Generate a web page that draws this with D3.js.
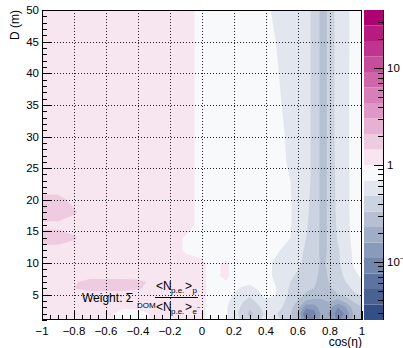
<!DOCTYPE html>
<html>
<head>
<meta charset="utf-8">
<script src="https://cdn.jsdelivr.net/npm/d3@7"></script>
<style>
  body { margin: 0; background: #fff; }
  text { font-family: "Liberation Sans", Arial, Helvetica, sans-serif; fill: #000; }
</style>
</head>
<body>
<svg id="chart" width="403" height="348"></svg>
<script>
// grid columns (cos eta) and rows (D in m, top row first)
const cosEta = [-1, -0.9, -0.8, -0.7, -0.6, -0.5, -0.4, -0.3, -0.2, -0.1,
                0, 0.05, 0.1, 0.15, 0.2, 0.25, 0.3, 0.35, 0.4, 0.45, 0.5,
                0.55, 0.6, 0.65, 0.7, 0.75, 0.8, 0.85, 0.9, 0.95, 1];
const depthD = [50, 45, 40, 35, 30, 26, 23, 20, 18, 16, 14, 12, 10, 8, 7, 6, 5, 4, 3, 2, 1];

// weight ratio, left block (cos -1 .. -0.1)
const ratioLeft = [
  [1.2, 1.2, 1.2, 1.2, 1.2, 1.2, 1.2, 1.2, 1.2, 1.2],
  [1.2, 1.2, 1.2, 1.2, 1.2, 1.2, 1.2, 1.2, 1.2, 1.2],
  [1.2, 1.2, 1.2, 1.2, 1.2, 1.2, 1.2, 1.2, 1.2, 1.2],
  [1.2, 1.2, 1.2, 1.2, 1.2, 1.2, 1.2, 1.2, 1.2, 1.2],
  [1.2, 1.2, 1.2, 1.2, 1.2, 1.2, 1.2, 1.2, 1.2, 1.2],
  [1.2, 1.2, 1.2, 1.2, 1.2, 1.2, 1.2, 1.2, 1.2, 1.2],
  [1.2, 1.2, 1.2, 1.2, 1.2, 1.2, 1.2, 1.2, 1.2, 1.2],
  [1.55, 1.55, 1.35, 1.2, 1.2, 1.2, 1.2, 1.2, 1.2, 1.2],
  [1.7, 1.7, 1.5, 1.25, 1.2, 1.2, 1.2, 1.2, 1.2, 1.2],
  [1.35, 1.35, 1.25, 1.2, 1.2, 1.2, 1.2, 1.2, 1.2, 1.2],
  [1.65, 1.65, 1.5, 1.25, 1.2, 1.2, 1.2, 1.2, 1.2, 0.95],
  [1.3, 1.3, 1.25, 1.2, 1.2, 1.2, 1.2, 1.2, 1.2, 0.95],
  [1.2, 1.2, 1.2, 1.2, 1.2, 1.2, 1.2, 1.2, 1.2, 1.15],
  [1.2, 1.2, 1.25, 1.3, 1.3, 1.3, 1.3, 1.25, 1.2, 1.15],
  [1.2, 1.25, 1.4, 1.6, 1.6, 1.6, 1.55, 1.35, 1.2, 1.15],
  [1.2, 1.25, 1.45, 1.6, 1.6, 1.6, 1.5, 1.3, 1.2, 1.15],
  [1.2, 1.2, 1.25, 1.25, 1.25, 1.25, 1.2, 1.2, 1.2, 1.15],
  [1.2, 1.2, 1.2, 1.2, 1.15, 1.1, 1.1, 1.15, 1.2, 1.15],
  [1.2, 1.2, 1.2, 1.15, 1.1, 1.05, 1.05, 1.1, 1.15, 1.15],
  [1.2, 1.2, 1.2, 1.15, 1.1, 0.9, 0.9, 1.05, 1.15, 1.15],
  [1.2, 1.2, 1.2, 1.15, 1.1, 0.88, 0.88, 1.05, 1.15, 1.15]
];

// right block (cos 0 .. 1)
const ratioRight = [
  [0.85, 0.85, 0.85, 0.85, 0.85, 0.85, 0.85, 0.85, 0.78, 0.64, 0.58, 0.58, 0.57, 0.52, 0.45, 0.29, 0.36, 0.6, 0.62, 0.8, 0.85],
  [0.85, 0.85, 0.85, 0.85, 0.85, 0.85, 0.85, 0.85, 0.85, 0.72, 0.6, 0.58, 0.57, 0.52, 0.45, 0.29, 0.36, 0.6, 0.62, 0.8, 0.85],
  [0.85, 0.85, 0.85, 0.85, 0.85, 0.85, 0.85, 0.85, 0.85, 0.78, 0.64, 0.58, 0.57, 0.52, 0.45, 0.29, 0.36, 0.6, 0.63, 0.8, 0.85],
  [0.85, 0.85, 0.85, 0.85, 0.85, 0.85, 0.85, 0.85, 0.85, 0.85, 0.685, 0.58, 0.57, 0.52, 0.45, 0.29, 0.36, 0.6, 0.63, 0.8, 0.85],
  [0.85, 0.85, 0.85, 0.85, 0.85, 0.85, 0.85, 0.85, 0.85, 0.85, 0.75, 0.6, 0.57, 0.52, 0.45, 0.29, 0.36, 0.6, 0.63, 0.8, 0.85],
  [0.85, 0.85, 0.85, 0.85, 0.85, 0.85, 0.85, 0.85, 0.85, 0.85, 0.78, 0.62, 0.57, 0.52, 0.45, 0.29, 0.36, 0.58, 0.63, 0.8, 0.85],
  [0.85, 0.85, 0.85, 0.85, 0.85, 0.85, 0.85, 0.85, 0.85, 0.85, 0.82, 0.7, 0.58, 0.52, 0.45, 0.29, 0.36, 0.56, 0.62, 0.8, 0.85],
  [0.85, 0.85, 0.85, 0.85, 0.85, 0.85, 0.85, 0.85, 0.85, 0.85, 0.85, 0.72, 0.58, 0.5, 0.45, 0.29, 0.36, 0.55, 0.62, 0.8, 0.85],
  [0.85, 0.85, 0.85, 0.85, 0.85, 0.85, 0.85, 0.85, 0.85, 0.85, 0.85, 0.72, 0.58, 0.5, 0.44, 0.29, 0.36, 0.54, 0.62, 0.8, 0.85],
  [0.85, 0.85, 0.85, 0.85, 0.85, 0.85, 0.85, 0.85, 0.85, 0.85, 0.85, 0.72, 0.57, 0.49, 0.44, 0.29, 0.36, 0.52, 0.61, 0.8, 0.84],
  [0.85, 0.85, 0.85, 0.85, 0.85, 0.85, 0.85, 0.85, 0.85, 0.85, 0.85, 0.7, 0.57, 0.48, 0.43, 0.29, 0.36, 0.5, 0.6, 0.78, 0.82],
  [0.85, 0.85, 0.85, 0.85, 0.85, 0.85, 0.85, 0.85, 0.85, 0.78, 0.66, 0.6, 0.52, 0.46, 0.42, 0.29, 0.36, 0.46, 0.58, 0.75, 0.8],
  [1.1, 0.9, 0.98, 1.04, 0.92, 0.85, 0.85, 0.85, 0.8, 0.66, 0.6, 0.55, 0.5, 0.45, 0.42, 0.3, 0.38, 0.45, 0.58, 0.72, 0.8],
  [1.1, 0.92, 0.97, 1.08, 0.9, 0.85, 0.82, 0.82, 0.8, 0.66, 0.58, 0.5, 0.46, 0.42, 0.38, 0.28, 0.36, 0.42, 0.52, 0.65, 0.72],
  [1.1, 0.92, 0.92, 0.98, 0.85, 0.8, 0.75, 0.8, 0.82, 0.7, 0.56, 0.48, 0.42, 0.38, 0.36, 0.27, 0.34, 0.38, 0.48, 0.6, 0.68],
  [1.1, 0.92, 0.88, 0.85, 0.75, 0.66, 0.62, 0.72, 0.85, 0.75, 0.58, 0.46, 0.4, 0.35, 0.33, 0.26, 0.32, 0.36, 0.42, 0.52, 0.6],
  [1.1, 0.92, 0.85, 0.8, 0.68, 0.58, 0.52, 0.62, 0.8, 0.72, 0.55, 0.45, 0.38, 0.32, 0.3, 0.25, 0.3, 0.33, 0.38, 0.45, 0.5],
  [1.1, 0.92, 0.85, 0.75, 0.62, 0.5, 0.42, 0.52, 0.65, 0.6, 0.52, 0.42, 0.32, 0.22, 0.2, 0.22, 0.24, 0.2, 0.26, 0.35, 0.4],
  [1.08, 0.92, 0.85, 0.72, 0.58, 0.45, 0.35, 0.45, 0.55, 0.52, 0.48, 0.38, 0.25, 0.12, 0.13, 0.2, 0.18, 0.11, 0.16, 0.28, 0.32],
  [1.06, 0.92, 0.85, 0.72, 0.55, 0.42, 0.3, 0.4, 0.52, 0.5, 0.45, 0.35, 0.22, 0.07, 0.09, 0.18, 0.15, 0.085, 0.12, 0.25, 0.3],
  [1.06, 0.92, 0.85, 0.75, 0.58, 0.46, 0.36, 0.45, 0.55, 0.52, 0.47, 0.38, 0.25, 0.1, 0.11, 0.2, 0.17, 0.1, 0.14, 0.27, 0.32]
];

// palette, one colour per contour band (low -> high)
const levelColors = ["#334f87", "#496193", "#5e739f", "#7386ac", "#8a9aba",
                     "#a0adc6", "#b6c0d3", "#ccd3e0", "#e2e6ee", "#f8f9fb",
                     "#f7e5f0", "#efcbe2", "#e7b1d4", "#df98c6", "#d77fb8",
                     "#cf66aa", "#c74d9c", "#bf348e", "#b71b80", "#af0272"];

const xMajor = [-1, -0.8, -0.6, -0.4, -0.2, 0, 0.2, 0.4, 0.6, 0.8, 1];
const yMajor = [5, 10, 15, 20, 25, 30, 35, 40, 45, 50];
const zLabels = [10, 1, 0.1];

const zMin = Math.pow(10, -1.6), zMax = Math.pow(10, 1.6);
const nLevels = levelColors.length;

const svg = d3.select("#chart");
svg.append("rect").attr("width", 403).attr("height", 348).attr("fill", "#fff");

const frameL = 42, frameR = 362, frameT = 10, frameB = 320;
const x = d3.scaleLinear().domain([-1, 1]).range([frameL, frameR]);
const y = d3.scaleLinear().domain([1, 50]).range([frameB, frameT]);
const z = d3.scaleLog().domain([zMin, zMax]).range([frameB, frameT]);

// flatten the grid, log of the ratio
const nx = cosEta.length, ny = depthD.length;
const values = [];
depthD.forEach((d, j) => {
    ratioLeft[j].concat(ratioRight[j]).forEach(v => values.push(Math.log10(v)));
});

const step = (Math.log10(zMax) - Math.log10(zMin)) / nLevels;
const thresholds = d3.range(nLevels).map(k => k === 0 ? -10 : Math.log10(zMin) + k * step);

const contours = d3.contours().size([nx, ny]).thresholds(thresholds)(values);

// grid index -> data coordinates (non uniform grid)
const colToCos = d3.scaleLinear().domain(cosEta.map((_, i) => i + 0.5)).range(cosEta).clamp(true);
const rowToD = d3.scaleLinear().domain(depthD.map((_, i) => i + 0.5)).range(depthD).clamp(true);
const proj = d3.geoTransform({
    point(px, py) { this.stream.point(x(colToCos(px)), y(rowToD(py))); }
});
const path = d3.geoPath(proj);

svg.append("clipPath").attr("id", "plotclip")
    .append("rect").attr("x", frameL).attr("y", frameT)
    .attr("width", frameR - frameL).attr("height", frameB - frameT);

svg.append("g").attr("clip-path", "url(#plotclip)")
    .selectAll("path")
    .data(contours)
    .enter().append("path")
    .attr("d", path)
    .attr("fill", (d, i) => levelColors[i])
    .attr("stroke", "none");

// dotted grid
const grid = svg.append("g")
    .attr("stroke", "#222")
    .attr("stroke-width", 1)
    .attr("stroke-dasharray", "1,2");
xMajor.filter(v => v > -1 && v < 1).forEach(v => {
    grid.append("line")
        .attr("x1", Math.round(x(v)) + 0.5).attr("x2", Math.round(x(v)) + 0.5)
        .attr("y1", frameT).attr("y2", frameB);
});
yMajor.filter(v => v < 50).forEach(v => {
    grid.append("line")
        .attr("y1", Math.round(y(v)) + 0.5).attr("y2", Math.round(y(v)) + 0.5)
        .attr("x1", frameL).attr("x2", frameR);
});

// frame
svg.append("rect")
    .attr("x", frameL + 0.5).attr("y", frameT + 0.5)
    .attr("width", frameR - frameL - 1).attr("height", frameB - frameT - 1)
    .attr("fill", "none").attr("stroke", "#000").attr("stroke-width", 1);

// ticks, ROOT style (inside the frame)
const ticks = svg.append("g").attr("stroke", "#000").attr("stroke-width", 1);
d3.range(0, 41).map(i => -1 + i * 0.05).forEach(v => {
    const major = Math.abs(v * 5 - Math.round(v * 5)) < 1e-6;
    const px = Math.round(x(v)) + 0.5;
    ticks.append("line").attr("x1", px).attr("x2", px)
        .attr("y1", frameB).attr("y2", frameB - (major ? 9 : 5));
});
d3.range(1, 51).forEach(v => {
    const major = v % 5 === 0;
    const py = Math.round(y(v)) + 0.5;
    ticks.append("line").attr("y1", py).attr("y2", py)
        .attr("x1", frameL).attr("x2", frameL + (major ? 10 : 5));
});

const fmt = v => (v < 0 ? "\u2212" : "") + d3.format("~g")(Math.abs(v));
svg.append("g").selectAll("text")
    .data(xMajor).enter().append("text")
    .attr("x", d => x(d)).attr("y", 334.5)
    .attr("text-anchor", "middle")
    .style("font-size", "11.5px")
    .text(fmt);
svg.append("g").selectAll("text")
    .data(yMajor).enter().append("text")
    .attr("x", 39).attr("y", d => y(d) + 4)
    .attr("text-anchor", "end")
    .style("font-size", "11.5px")
    .text(d => d);

svg.append("text")
    .attr("transform", "translate(19,10) rotate(-90)")
    .attr("text-anchor", "end")
    .style("font-size", "12px")
    .text("D (m)");
svg.append("text")
    .attr("x", 362).attr("y", 345.5)
    .attr("text-anchor", "end")
    .style("font-size", "12px")
    .text("cos(\u03b7)");

// colour bar
const barX = 364, barW = 19;
const bar = svg.append("g");
levelColors.forEach((c, k) => {
    const lo = Math.pow(10, Math.log10(zMin) + k * step);
    const hi = Math.pow(10, Math.log10(zMin) + (k + 1) * step);
    bar.append("rect")
        .attr("x", barX).attr("width", barW)
        .attr("y", z(hi)).attr("height", z(lo) - z(hi))
        .attr("fill", c);
});
bar.append("line")
    .attr("x1", barX + barW + 0.5).attr("x2", barX + barW + 0.5)
    .attr("y1", frameT).attr("y2", frameB)
    .attr("stroke", "#000");
z.ticks().filter(v => v >= zMin && v <= zMax).forEach(v => {
    const major = Math.abs(Math.log10(v) - Math.round(Math.log10(v))) < 1e-6;
    const py = Math.round(z(v)) + 0.5;
    bar.append("line")
        .attr("x1", barX + barW).attr("x2", barX + barW - (major ? 9 : 5))
        .attr("y1", py).attr("y2", py)
        .attr("stroke", "#000");
});
zLabels.forEach(v => {
    const t = svg.append("text")
        .attr("x", 387).attr("y", z(v) + 4)
        .style("font-size", "11.5px");
    if (v < 1) {
        t.append("tspan").text("10");
        t.append("tspan").attr("dy", -5).style("font-size", "7px").text("\u22121");
    } else {
        t.text(v);
    }
});

// weight annotation
const note = svg.append("g");
note.append("text").attr("x", 82).attr("y", 302).style("font-size", "12px").text("Weight: \u03a3");
note.append("text").attr("x", 137).attr("y", 308).style("font-size", "8px").text("DOM");
note.append("line")
    .attr("x1", 155).attr("x2", 198).attr("y1", 297.5).attr("y2", 297.5)
    .attr("stroke", "#000").attr("stroke-width", 1);
[[290, "p", false], [311, "e", true]].forEach(([by, sub, minus]) => {
    note.append("text").attr("x", 156).attr("y", by).style("font-size", "12px").text("<N");
    note.append("text").attr("x", 171).attr("y", by + 3).style("font-size", "8px").text("p.e.");
    note.append("text").attr("x", 185).attr("y", by).style("font-size", "12px").text(">");
    note.append("text").attr("x", 192.5).attr("y", by + 3).style("font-size", "8px").text(sub);
    if (minus) {
        note.append("text").attr("x", 197).attr("y", by - 2).style("font-size", "6px").text("\u2212");
    }
});
</script>
</body>
</html>
